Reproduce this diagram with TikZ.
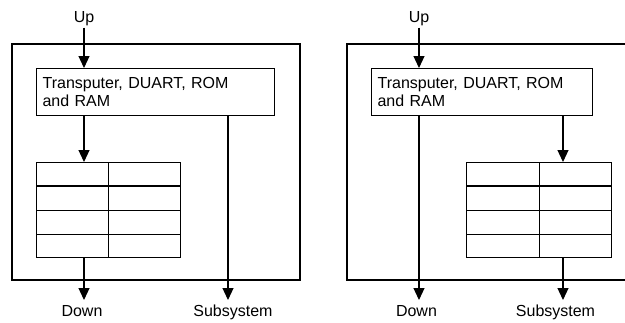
\documentclass[tikz,border=0pt]{standalone}
\usepackage{fontspec}
\setmainfont{Liberation Sans}
\usetikzlibrary{arrows.meta,calc}
\tikzset{
  ln/.style={line width=1.2pt},
  arr/.style={ln,-{Triangle[length=12pt,width=11pt]}},
  lbl/.style={anchor=base,inner sep=2pt,font=\fontsize{16}{18.5}\selectfont},
  procbox/.style={draw,ln,anchor=north west,minimum width=238pt,minimum height=47pt,
    text width=226pt,align=left,inner xsep=6pt,inner ysep=0pt,font=\fontsize{16}{18.5}\selectfont},
  gridbox/.style={draw,ln,anchor=north west,minimum width=144pt,minimum height=95pt,inner sep=0pt},
  outerbox/.style={draw,ln}
}
\newcommand{\gridlines}[1]{%
  \draw[ln] (#1.north) -- (#1.south);
  \foreach \f in {0.25,0.5,0.75}
    \draw[ln] ($(#1.north west)!\f!(#1.south west)$) -- ($(#1.north east)!\f!(#1.south east)$);
}
\begin{document}
\begin{tikzpicture}[x=1pt,y=-1pt]
\useasboundingbox (0,0) rectangle (625,322);
\clip (0,0) rectangle (625,322);
% ---------- left panel ----------
\draw[outerbox] (12,44) rectangle (300,280);
\node[lbl] (upL) at (84,22) {Up};
\node[procbox] (procL) at (36,68) {Transputer, DUART, ROM\\and RAM};
\node[gridbox] (gridL) at (36,162) {};
\gridlines{gridL}
\node[lbl] (downL) at (82,316) {Down};
\node[lbl] (subL) at (233,316) {Subsystem};
\coordinate (downTipL) at (84,300);
\coordinate (subTipL) at (228,300);
\draw[arr] (upL.south) -- (upL.south |- procL.north);
\draw[arr] (procL.south -| upL) -- (gridL.north -| upL);
\draw[arr] (gridL.south -| downTipL) -- (downTipL);
\draw[arr] (procL.south -| subTipL) -- (subTipL);
% ---------- right panel ----------
\draw[outerbox] (347,44) rectangle (640,280);
\node[lbl] (upR) at (419,22) {Up};
\node[procbox,minimum width=221pt,text width=209pt] (procR) at (371,68) {Transputer, DUART, ROM\\and RAM};
\node[gridbox,minimum width=145pt] (gridR) at (466,162) {};
\gridlines{gridR}
\node[lbl] (downR) at (416.5,316) {Down};
\node[lbl] (subR) at (555.5,316) {Subsystem};
\coordinate (downTipR) at (419,300);
\coordinate (subTipR) at (563,300);
\draw[arr] (upR.south -| downTipR) -- (procR.north -| downTipR);
\draw[arr] (procR.south -| downTipR) -- (downTipR);
\draw[arr] (procR.south -| subTipR) -- (gridR.north -| subTipR);
\draw[arr] (gridR.south -| subTipR) -- (subTipR);
\end{tikzpicture}
\end{document}
